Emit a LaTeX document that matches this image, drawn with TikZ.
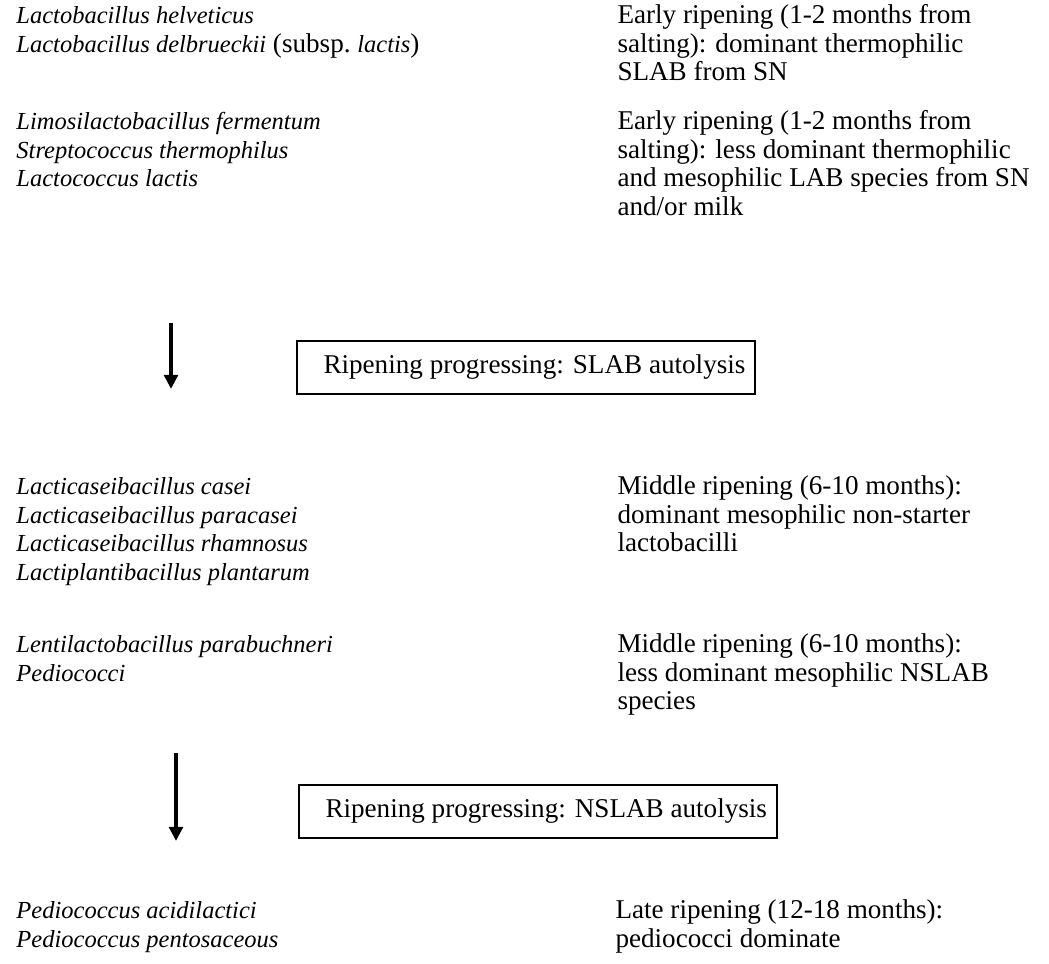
\documentclass[tikz,border=0pt]{standalone}
\usepackage{fontspec}
\setmainfont{Liberation Serif}
\usetikzlibrary{arrows.meta}
\newcommand{\spn}[1]{{\fontsize{9.8pt}{11.36pt}\selectfont\itshape #1}}
\begin{document}
\begin{tikzpicture}[x=0.4pt,y=-0.4pt,
  every node/.style={inner sep=0pt, font=\fontsize{10.85pt}{11.36pt}\selectfont},
  txt/.style={anchor=base west, align=left},
  ripbox/.style={draw, line width=0.8pt, anchor=north west, minimum height=21.2pt, inner xsep=0pt, align=left},
  flow/.style={line width=1.4pt, -{Triangle[width=5.4pt,length=5.6pt]}}]
\useasboundingbox (0,0) rectangle (1049,964);
% top section (node coordinates are the baselines of the last lines)
\node[txt] (l1) at (16,52.4) {\spn{Lactobacillus helveticus}\\\spn{Lactobacillus delbrueckii} (subsp.~\spn{lactis})};
\node[txt] (r1) at (617,80.8) {Early ripening (1-2 months from\\salting): dominant thermophilic\\SLAB from SN};
\node[txt] (l2) at (16,186.8) {\spn{Limosilactobacillus fermentum}\\\spn{Streptococcus thermophilus}\\\spn{Lactococcus lactis}};
\node[txt] (r2) at (617,215.2) {Early ripening (1-2 months from\\salting): less dominant thermophilic\\and mesophilic LAB species from SN\\and/or milk};
% first transition
\coordinate (a1s) at (171,323);
\coordinate (a1e) at (171,389);
\draw[flow] (a1s) -- (a1e);
\node[ripbox] (b1) at (296,340) {\hspace*{10.6pt}Ripening progressing: SLAB autolysis\hspace*{4pt}};
% middle section
\node[txt] (l3) at (16,580.2) {\spn{Lacticaseibacillus casei}\\\spn{Lacticaseibacillus paracasei}\\\spn{Lacticaseibacillus rhamnosus}\\\spn{Lactiplantibacillus plantarum}};
\node[txt] (r3) at (617,551.8) {Middle ripening (6-10 months):\\dominant mesophilic non-starter\\lactobacilli};
\node[txt] (l4) at (16,681.4) {\spn{Lentilactobacillus parabuchneri}\\\spn{Pediococci}};
\node[txt] (r4) at (617,709.8) {Middle ripening (6-10 months):\\less dominant mesophilic NSLAB\\species};
% second transition
\coordinate (a2s) at (176,753);
\coordinate (a2e) at (176,841);
\draw[flow] (a2s) -- (a2e);
\node[ripbox] (b2) at (298,784) {\hspace*{10.6pt}Ripening progressing: NSLAB autolysis\hspace*{4pt}};
% bottom section
\node[txt] (l5) at (16,947.4) {\spn{Pediococcus acidilactici}\\\spn{Pediococcus pentosaceous}};
\node[txt] (r5) at (615,947.4) {Late ripening (12-18 months):\\pediococci dominate};
\end{tikzpicture}
\end{document}
